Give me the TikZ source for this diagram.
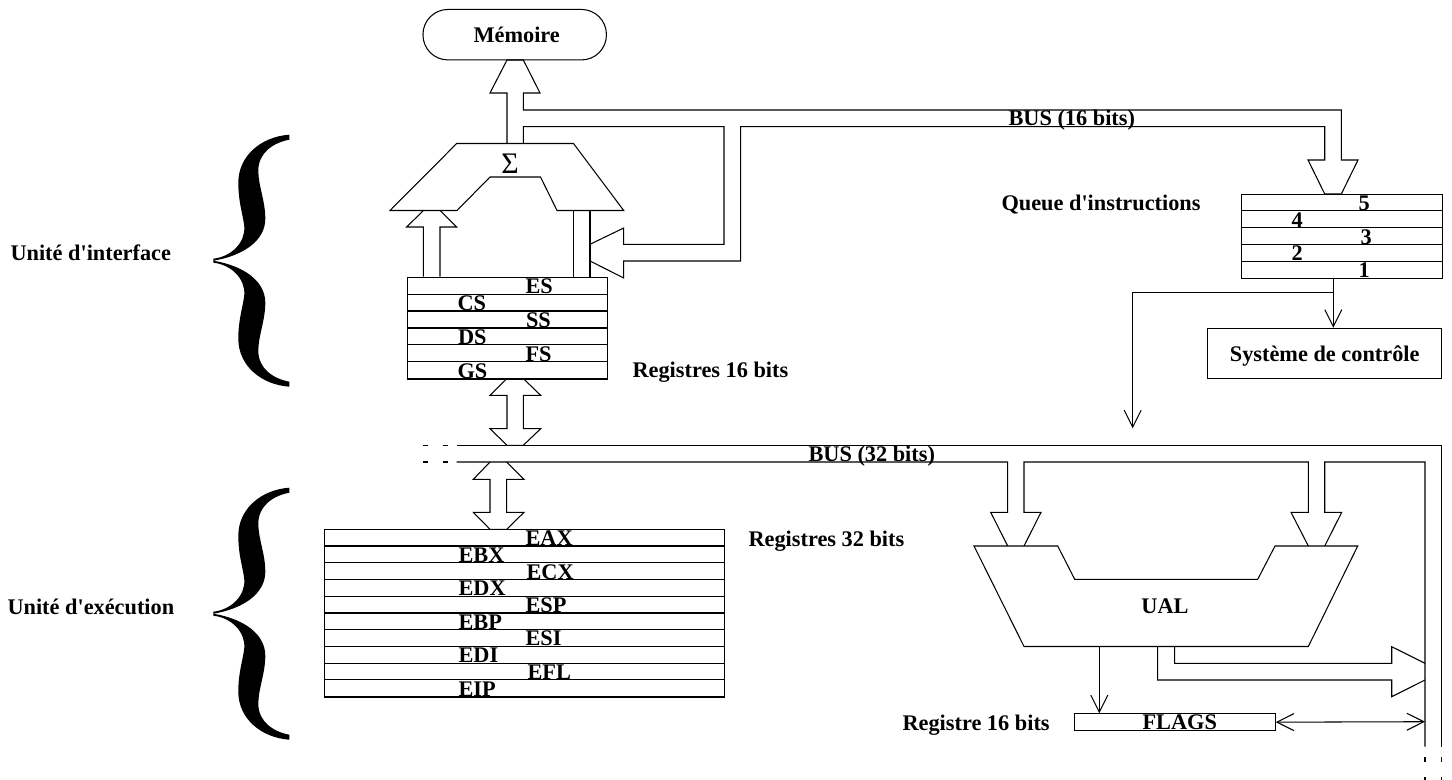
\documentclass[tikz,border=0pt]{standalone}
\usepackage{fontspec}
\setmainfont{Liberation Serif}
\usetikzlibrary{arrows.meta, positioning, calc}

\begin{document}
\begin{tikzpicture}[
    x=0.02cm, y=-0.02cm,
    line width=0.6pt,
    lbl/.style={font=\fontsize{12.7}{15}\selectfont\bfseries, inner sep=0pt, anchor=base west},
    box/.style={draw, rectangle, inner sep=0pt, align=center, font=\fontsize{12.7}{15}\selectfont\bfseries, text height=0.4cm, text depth=0.08cm},
    reg/.style={draw, rectangle, inner sep=0pt, anchor=north west, minimum width=#1},
    arr/.style={-{Straight Barb[length=3.4mm, width=3.4mm]}},
    dbl/.style={{Straight Barb[length=3.4mm, width=3.4mm]}-{Straight Barb[length=3.4mm, width=3.4mm]}},
    cut/.style={dash pattern=on 2.8pt off 8.5pt},
    bigbrace/.pic={
        \fill (0,-2) .. controls (18,-4) and (32,-18) .. (31,-34)
            .. controls (30,-45) and (25,-58) .. (25,-78)
            .. controls (25,-105) and (48,-124) .. (76,-126)
            -- (76,-121)
            .. controls (60,-118) and (45,-108) .. (45,-90)
            .. controls (45,-75) and (52,-60) .. (52,-42)
            .. controls (52,-20) and (30,-5) .. (0,0)
            .. controls (30,5) and (52,20) .. (52,42)
            .. controls (52,60) and (45,75) .. (45,90)
            .. controls (45,108) and (60,118) .. (76,121)
            -- (76,126)
            .. controls (48,124) and (25,105) .. (25,78)
            .. controls (25,58) and (30,45) .. (31,34)
            .. controls (32,18) and (18,4) .. (0,2) -- cycle;
    }
]
\useasboundingbox (0,0) rectangle (1452,780);

\pic at (213.3,260.7) {bigbrace};
\pic at (213.3,613.7) {bigbrace};
\node[lbl] (interface) at (10,260.5) {Unité d\textquotesingle interface};
\node[lbl] (execution) at (7,614) {Unité d\textquotesingle exécution};

\node[box, rounded corners=0.5cm, minimum width=3.67cm, minimum height=1.01cm] (MEM) at (514.7,34.7) {\hspace{0.08cm}Mémoire};
\node[box, minimum width=4.68cm, minimum height=1cm] (CTRL) at (1324.7,353.3) {Système de contrôle};

\node[reg=4.006cm, minimum height=2.036cm] (SEG) at (406.7,276.7) {};
\foreach \y/\x/\t in {294.3/525/ES, 311/457/CS, 328/525.5/SS, 344.7/457.5/DS, 361.5/525/FS, 378.5/457/GS} {
    \draw (SEG.west |- 0,\y) -- (SEG.east |- 0,\y);
    \node[lbl] (seg\t) at (\x,\y-0.5) {\t};
}
\node[lbl] (seglabel) at (632,377) {Registres 16 bits};

\node[reg=8.006cm, minimum height=3.348cm] (GEN) at (323.7,529.3) {};
\foreach \y/\x/\t in {546/525/EAX, 562.8/458/EBX, 579.5/526/ECX, 596.3/458/EDX, 613/525/ESP, 629.7/458/EBP, 646.4/525/ESI, 663.1/458/EDI, 679.8/527/EFL, 696.7/458/EIP} {
    \draw (GEN.west |- 0,\y) -- (GEN.east |- 0,\y);
    \node[lbl] (gen\t) at (\x,\y-0.5) {\t};
}
\node[lbl] (genlabel) at (748,546) {Registres 32 bits};

\node[reg=4.008cm, minimum height=1.686cm] (QUE) at (1241.3,194) {};
\foreach \y/\x/\t in {210.7/1358/5, 227.7/1291/4, 244.7/1360/3, 261.3/1291/2, 278.3/1358/1} {
    \draw (QUE.west |- 0,\y) -- (QUE.east |- 0,\y);
    \node[lbl] (que\t) at (\x,\y-0.5) {\t};
}
\node[lbl] (quelabel) at (1001,210.5) {Queue d\textquotesingle instructions};

\node[reg=4.008cm, minimum height=0.334cm] (FLG) at (1074.3,713.3) {};
\node[lbl] (flags) at (1142,729.5) {FLAGS};
\node[lbl] (flglabel) at (902,730) {Registre 16 bits};

% additionneur
\draw (456.7,143.5) -- (573.5,143.5) -- (623.7,210.5) -- (557,210.5) -- (540.5,177) -- (490,177) -- (457,210.5) -- (390,210.5) -- cycle;
\node[font=\fontsize{17}{20}\selectfont, inner sep=0pt] (sigma) at (510,164) {Σ};

% UAL
\draw (974,546) -- (1057.7,546) -- (1074.7,579.3) -- (1257.7,579.3) -- (1275,546) -- (1357.7,546) -- (1308.3,646.5) -- (1024,646.5) -- cycle;
\node[lbl, anchor=base] (UAL) at (1165,613) {UAL};

% bus 16 bits
\draw (507,143.5) -- (507,93) -- (490,93) -- (507,60) -- (523.3,60) -- (540,93) -- (523.3,93) -- (523.3,110)
    -- (1341.3,110) -- (1341.3,160) -- (1358,160) -- (1341.3,194) -- (1324.7,194) -- (1308,160) -- (1324.7,160)
    -- (1324.7,126.7) -- (740.7,126.7) -- (740.7,261) -- (623.7,261) -- (623.7,278) -- (590,261) -- (590,244.3)
    -- (623.7,228) -- (623.7,244.3) -- (724,244.3) -- (724,126.7) -- (523.3,126.7) -- (523.3,143.5);
\node[lbl] (bus16) at (1008,126) {BUS (16 bits)};

% liaisons segments
\draw (423.3,276.7) -- (423.3,227) -- (406.7,227) -- (423.3,210.5);
\draw (440,210.5) -- (456.7,227) -- (440,227) -- (440,276.7);
\draw (573.5,210.5) -- (573.5,276.7);
\draw (590,210.5) -- (590,276.7);

% doubles fleches
\draw (507,378.5) -- (490,395.4) -- (507,395.4) -- (507,428.7) -- (490,428.7) -- (507,445.3) -- (523.3,445.3) -- (540.7,428.7) -- (523.3,428.7) -- (523.3,395.4) -- (540.7,395.4) -- (523.3,378.5);
\draw (490,462) -- (473.3,479.3) -- (490,479.3) -- (490,512.3) -- (473.3,512.3) -- (490,529.3) -- (506.7,529.3) -- (524,512.3) -- (506.7,512.3) -- (506.7,479.3) -- (524,479.3) -- (506.7,462);

% bus 32 bits
\draw (456.7,445.3) -- (1441.7,445.3) -- (1441.7,746.7);
\draw (456.7,462) -- (1007.7,462) -- (1007.7,512.3) -- (990.7,512.3) -- (1007.7,546);
\draw (1024,546) -- (1041,512.3) -- (1024,512.3) -- (1024,462) -- (1308.3,462) -- (1308.3,512.3) -- (1291,512.3) -- (1308.3,546);
\draw (1324.7,546) -- (1341.7,512.3) -- (1324.7,512.3) -- (1324.7,462) -- (1425,462) -- (1425,746.7);
\draw[cut] (423.3,445.3) -- (450,445.3);
\draw[cut] (423.3,462) -- (450,462);
\draw[cut] (1425,757) -- (1425,780);
\draw[cut] (1441.7,757) -- (1441.7,780);
\node[lbl] (bus32) at (808,461) {BUS (32 bits)};

% sortie UAL
\draw (1174.7,646.5) -- (1174.7,663.3) -- (1391.7,663.3) -- (1391.7,646.7) -- (1425,663.3);
\draw (1157.7,646.5) -- (1157.7,680) -- (1391.7,680) -- (1391.7,696.7) -- (1425,680);

% fleches simples
\coordinate (quebot) at (1333.3,278.3);
\coordinate (branch) at (1333.3,292.7);
\coordinate (quedown) at (1132.7,428.3);
\coordinate (ualbot) at (1099.3,646.5);
\coordinate (flagtop) at (1099.3,713.3);
\coordinate (busflag) at (1425,721.7);
\draw[arr] (quebot) -- (quebot |- CTRL.north);
\draw[arr] (branch) -- (quedown |- branch) -- (quedown);
\draw[arr] (ualbot) -- (flagtop);
\draw[dbl] (FLG.east) -- (busflag);
\end{tikzpicture}
\end{document}
